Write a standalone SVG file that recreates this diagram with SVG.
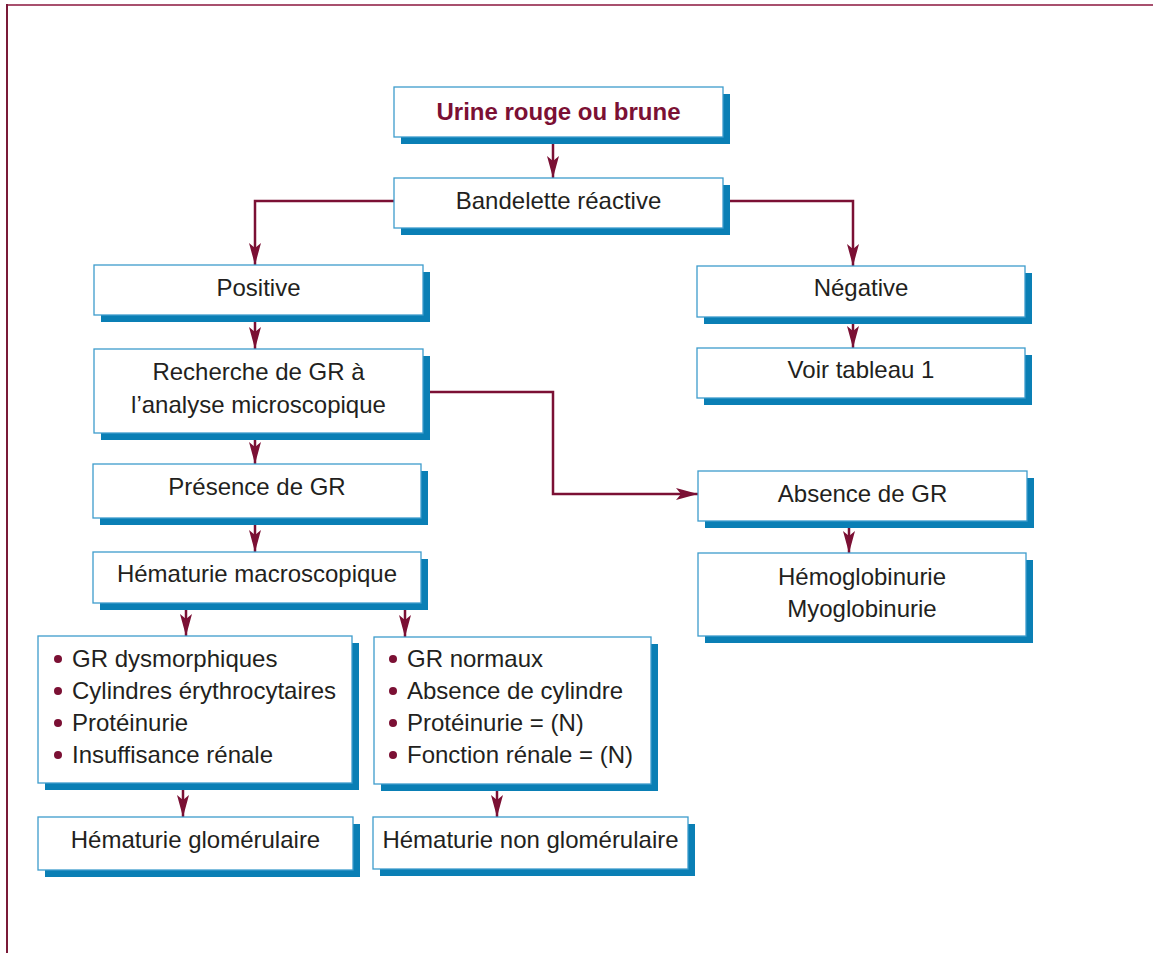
<svg xmlns="http://www.w3.org/2000/svg" width="1153" height="953" viewBox="0 0 1153 953">
<style>
.box{fill:#ffffff;stroke:#3d9ccc;stroke-width:1.3}
.sh{fill:#0a7fb5}
.t{font-family:"Liberation Sans",Arial,Helvetica,sans-serif;font-size:24px;fill:#231f20}
.c{text-anchor:middle}
.title{font-weight:bold;fill:#7b1034}
.conn{fill:none;stroke:#7b1034;stroke-width:2.5}
.dot{fill:#7b1034}
</style>
<defs>
<marker id="ah" markerUnits="userSpaceOnUse" markerWidth="24" markerHeight="14" refX="22" refY="6.5" orient="auto" viewBox="0 0 24 14">
<path d="M0,0.5 L22,6.5 L0,12.5 L5,6.5 Z" fill="#7b1034"/>
</marker>
</defs>
<rect width="1153" height="953" fill="#ffffff"/>
<g id="frame">
<line x1="7" y1="5" x2="1153" y2="5" stroke="#a8506e" stroke-width="2"/>
<line x1="7" y1="4" x2="7" y2="953" stroke="#7a1a38" stroke-width="2"/>
</g>
<g id="connectors">
<path class="conn" d="M553,137 V178" marker-end="url(#ah)"/>
<path class="conn" d="M394,201 H255 V265" marker-end="url(#ah)"/>
<path class="conn" d="M723,201 H853 V266" marker-end="url(#ah)"/>
<path class="conn" d="M255,315 V349" marker-end="url(#ah)"/>
<path class="conn" d="M255,433 V464" marker-end="url(#ah)"/>
<path class="conn" d="M255,518 V552" marker-end="url(#ah)"/>
<path class="conn" d="M423,392 H553 V494 H698" marker-end="url(#ah)"/>
<path class="conn" d="M186,603 V636" marker-end="url(#ah)"/>
<path class="conn" d="M405,603 V637" marker-end="url(#ah)"/>
<path class="conn" d="M183,783 V817" marker-end="url(#ah)"/>
<path class="conn" d="M497,784 V817" marker-end="url(#ah)"/>
<path class="conn" d="M853,317 V348" marker-end="url(#ah)"/>
<path class="conn" d="M849,521 V553" marker-end="url(#ah)"/>
</g>
<g id="n-urine">
<rect class="sh" x="401" y="94" width="329" height="50"/>
<rect class="box" x="394" y="87" width="329" height="50"/>
<text class="t c title" x="558.5" y="120">Urine rouge ou brune</text>
</g>
<g id="n-bandelette">
<rect class="sh" x="401" y="185" width="329" height="50"/>
<rect class="box" x="394" y="178" width="329" height="50"/>
<text class="t c" x="558.5" y="209">Bandelette réactive</text>
</g>
<g id="n-positive">
<rect class="sh" x="101" y="272" width="329" height="50"/>
<rect class="box" x="94" y="265" width="329" height="50"/>
<text class="t c" x="258.5" y="296">Positive</text>
</g>
<g id="n-recherche">
<rect class="sh" x="101" y="356" width="329" height="84"/>
<rect class="box" x="94" y="349" width="329" height="84"/>
<text class="t c" x="258.5" y="380">Recherche de GR à</text>
<text class="t c" x="258.5" y="413">l’analyse microscopique</text>
</g>
<g id="n-presence">
<rect class="sh" x="100" y="471" width="328" height="54"/>
<rect class="box" x="93" y="464" width="328" height="54"/>
<text class="t c" x="257" y="495">Présence de GR</text>
</g>
<g id="n-hematurie-macro">
<rect class="sh" x="100" y="559" width="328" height="51"/>
<rect class="box" x="93" y="552" width="328" height="51"/>
<text class="t c" x="257" y="582">Hématurie macroscopique</text>
</g>
<g id="n-negative">
<rect class="sh" x="704" y="273" width="328" height="51"/>
<rect class="box" x="697" y="266" width="328" height="51"/>
<text class="t c" x="861" y="296">Négative</text>
</g>
<g id="n-voir">
<rect class="sh" x="704" y="355" width="328" height="50"/>
<rect class="box" x="697" y="348" width="328" height="50"/>
<text class="t c" x="861" y="378">Voir tableau 1</text>
</g>
<g id="n-absence">
<rect class="sh" x="705" y="478" width="329" height="50"/>
<rect class="box" x="698" y="471" width="329" height="50"/>
<text class="t c" x="862.5" y="502">Absence de GR</text>
</g>
<g id="n-hemoglobinurie">
<rect class="sh" x="705" y="560" width="328" height="83"/>
<rect class="box" x="698" y="553" width="328" height="83"/>
<text class="t c" x="862" y="585">Hémoglobinurie</text>
<text class="t c" x="862" y="617">Myoglobinurie</text>
</g>
<g id="n-list-glom">
<rect class="sh" x="45" y="643" width="314" height="147"/>
<rect class="box" x="38" y="636" width="314" height="147"/>
<circle class="dot" cx="58" cy="659" r="4"/>
<circle class="dot" cx="58" cy="691" r="4"/>
<circle class="dot" cx="58" cy="723" r="4"/>
<circle class="dot" cx="58" cy="755" r="4"/>
<text class="t" x="72" y="667">GR dysmorphiques</text>
<text class="t" x="72" y="699">Cylindres érythrocytaires</text>
<text class="t" x="72" y="731">Protéinurie</text>
<text class="t" x="72" y="763">Insuffisance rénale</text>
</g>
<g id="n-list-nonglom">
<rect class="sh" x="381" y="644" width="277" height="147"/>
<rect class="box" x="374" y="637" width="277" height="147"/>
<circle class="dot" cx="393" cy="659" r="4"/>
<circle class="dot" cx="393" cy="691" r="4"/>
<circle class="dot" cx="393" cy="723" r="4"/>
<circle class="dot" cx="393" cy="755" r="4"/>
<text class="t" x="407" y="667">GR normaux</text>
<text class="t" x="407" y="699">Absence de cylindre</text>
<text class="t" x="407" y="731">Protéinurie = (N)</text>
<text class="t" x="407" y="763">Fonction rénale = (N)</text>
</g>
<g id="n-glom">
<rect class="sh" x="45" y="824" width="315" height="53"/>
<rect class="box" x="38" y="817" width="315" height="53"/>
<text class="t c" x="195.5" y="848">Hématurie glomérulaire</text>
</g>
<g id="n-nonglom">
<rect class="sh" x="380" y="824" width="315" height="52"/>
<rect class="box" x="373" y="817" width="315" height="52"/>
<text class="t c" x="530.5" y="848">Hématurie non glomérulaire</text>
</g>
</svg>
